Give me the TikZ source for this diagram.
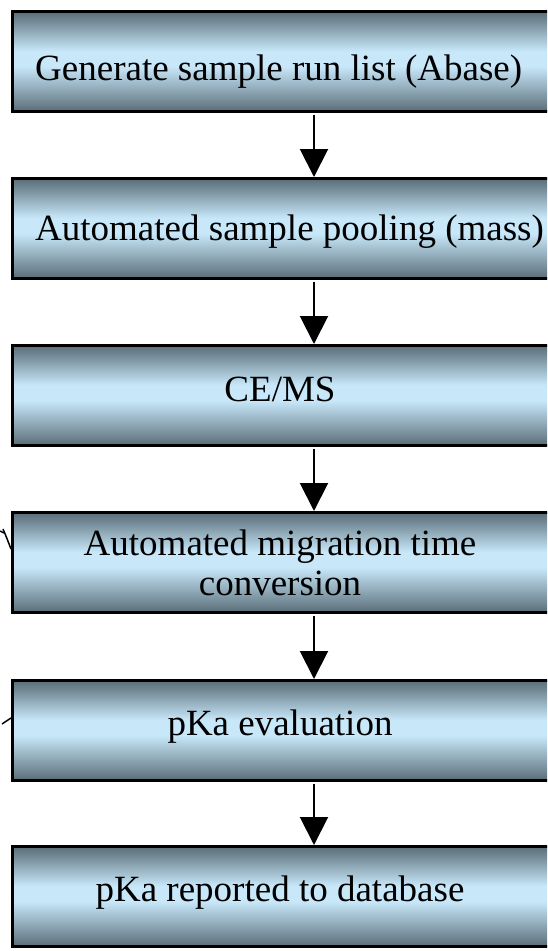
\documentclass[tikz,border=0pt]{standalone}
\usepackage{fontspec}
\setmainfont{Liberation Serif}
\usetikzlibrary{arrows.meta}
\definecolor{dk}{HTML}{5A6D78}
\definecolor{dk2}{HTML}{6E8490}
\definecolor{lt}{HTML}{C8E8FA}
\pgfdeclareverticalshading{boxshade}{100bp}{color(0bp)=(dk); color(25bp)=(dk); color(29bp)=(dk2); color(47.5bp)=(lt); color(55bp)=(lt); color(71bp)=(dk2); color(75bp)=(dk); color(100bp)=(dk)}
\tikzset{
  stepbox/.style={draw=black, line width=2.5pt, shading=boxshade, anchor=north west,
    minimum width=560pt, minimum height=100pt, inner sep=0pt},
  lbl/.style={font=\fontsize{37}{40}\selectfont, inner sep=0pt, align=center},
  arr/.style={line width=2pt, -{Triangle[width=28pt,length=28pt]}},
  stray/.style={line width=1.5pt}
}
\begin{document}
\begin{tikzpicture}[x=1pt,y=1pt]
\useasboundingbox (0,0) rectangle (547,-951);
\clip (0,0) rectangle (547,-951);
\node[stepbox] (b1) at (11,-10) {};
\node[stepbox] (b2) at (11,-177) {};
\node[stepbox] (b3) at (11,-344) {};
\node[stepbox] (b4) at (11,-511) {};
\node[stepbox] (b5) at (11,-679) {};
\node[stepbox] (b6) at (11,-845) {};
\node[lbl, anchor=base west] (t1) at (35,-80) {Generate sample run list (Abase)};
\node[lbl, anchor=base west] (t2) at (35,-240) {Automated sample pooling (mass)};
\node[lbl, anchor=base] (t3) at (280,-401) {CE/MS};
\node[lbl, anchor=base] (t4a) at (280,-555) {Automated migration time};
\node[lbl, anchor=base] (t4b) at (280,-595) {conversion};
\node[lbl, anchor=base] (t5) at (280,-735) {pKa evaluation};
\node[lbl, anchor=base] (t6) at (280,-901) {pKa reported to database};
\coordinate (ax) at (314,0);
\draw[arr] (b1.south -| ax) ++(0,-2) -- (b2.north -| ax);
\draw[arr] (b2.south -| ax) ++(0,-2) -- (b3.north -| ax);
\draw[arr] (b3.south -| ax) ++(0,-2) -- (b4.north -| ax);
\draw[arr] (b4.south -| ax) ++(0,-2) -- (b5.north -| ax);
\draw[arr] (b5.south -| ax) ++(0,-2) -- (b6.north -| ax);
\coordinate (s1a) at (0,-531);
\coordinate (s1b) at (4,-533);
\coordinate (s1c) at (11,-549);
\draw[stray] (s1a) -- (s1b);
\draw[stray] (3,-529) .. controls (6,-536) .. (s1c);
\coordinate (s2a) at (2,-724);
\coordinate (s2b) at (11,-718);
\draw[stray] (s2a) -- (s2b);
\end{tikzpicture}
\end{document}
